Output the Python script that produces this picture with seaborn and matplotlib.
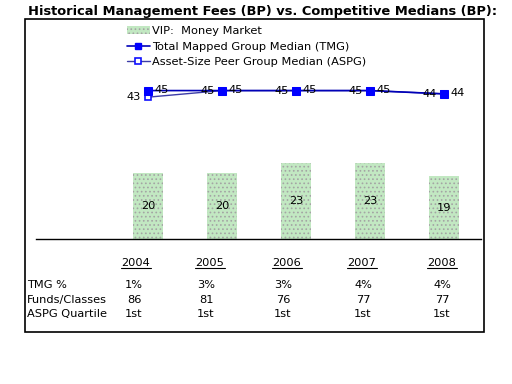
import numpy as np
import matplotlib
matplotlib.use("Agg")
import matplotlib.pyplot as plt
import seaborn as sns
from matplotlib.patches import Rectangle, Patch
from matplotlib.lines import Line2D

years = ["2004", "2005", "2006", "2007", "2008"]
vip_fees = [20, 20, 23, 23, 19]
tmg_median = [45, 45, 45, 45, 44]
aspg_median = [43, 45, 45, 45, 44]
tmg_pct = ["1%", "3%", "3%", "4%", "4%"]
funds_classes = ["86", "81", "76", "77", "77"]
aspg_quartile = ["1st", "1st", "1st", "1st", "1st"]
row_labels = ["TMG %", "Funds/Classes", "ASPG Quartile"]
title = "Historical Management Fees (BP) vs. Competitive Medians (BP):"
legend_labels = ["VIP:  Money Market", "Total Mapped Group Median (TMG)",
                 "Asset-Size Peer Group Median (ASPG)"]

sns.set_style("white")
plt.rcParams['font.family'] = ['DejaVu Sans']
plt.rcParams['text.color'] = 'black'
plt.rcParams['hatch.linewidth'] = 0.7

W, H = 512, 384
fig = plt.figure(figsize=(W / 100, H / 100), dpi=100)

def fx(px):
    return px / W

def fy(py):
    return 1 - py / H

FS = 8.2
BAR_FACE = '#c2e8c2'
HATCH_COL = '#a4a4a4'

ax = fig.add_axes([fx(36), fy(239), fx(481) - fx(36), fy(19) - fy(239)])

pos = np.arange(len(years))
sns.barplot(x=pos, y=vip_fees, ax=ax, color=BAR_FACE, width=0.4,
            native_scale=True, edgecolor=HATCH_COL, linewidth=0, hatch='....',
            saturation=1)
for c in ax.containers:
    ax.bar_label(c, labels=[str(v) for v in vip_fees], label_type='center',
                 fontsize=FS, color='black')

sns.lineplot(x=pos, y=aspg_median, ax=ax, color='#3c3ca8', linewidth=1.0,
             marker='s', markersize=5, markerfacecolor='white',
             markeredgecolor='#1010ff', markeredgewidth=1.2)
sns.lineplot(x=pos, y=tmg_median, ax=ax, color='#0000b8', linewidth=1.2,
             marker='s', markersize=5.5, markerfacecolor='#0000ff',
             markeredgecolor='#0000ff')

for i in range(len(years)):
    ax.annotate(str(aspg_median[i]), (pos[i], aspg_median[i]), xytext=(-5, 0),
                textcoords='offset points', ha='right', va='center', fontsize=FS)
    ax.annotate(str(tmg_median[i]), (pos[i], tmg_median[i]), xytext=(5, 0.5),
                textcoords='offset points', ha='left', va='center', fontsize=FS)

ax.set_xlim(-1.514, 4.5)
ax.set_ylim(0, 66.7)
ax.set_xticks([])
ax.set_yticks([])
ax.set_xlabel("")
ax.set_ylabel("")
for s in ['top', 'left', 'right']:
    ax.spines[s].set_visible(False)
ax.spines['bottom'].set_color('black')
ax.spines['bottom'].set_linewidth(1.0)
ax.patch.set_alpha(0)

handles = [
    Patch(facecolor=BAR_FACE, edgecolor=HATCH_COL, linewidth=0, hatch='....'),
    Line2D([0], [0], color='#0000b8', lw=1.2, marker='s', markersize=5,
           markerfacecolor='#0000ff', markeredgecolor='#0000ff'),
    Line2D([0], [0], color='#3c3ca8', lw=1.0, marker='s', markersize=4.5,
           markerfacecolor='white', markeredgecolor='#1010ff', markeredgewidth=1.2),
]
ax.legend(handles, legend_labels, loc='upper left',
          bbox_to_anchor=(fx(127), fy(26)), bbox_transform=fig.transFigure,
          frameon=False, fontsize=FS, handlelength=2.0, handletextpad=0.2,
          labelspacing=0.5, borderpad=0, borderaxespad=0)

# title
fig.text(fx(28), fy(11), title, fontsize=9.4, fontweight='bold', va='center', ha='left')

# outer box
fig.add_artist(Rectangle((fx(25), fy(332)), fx(484) - fx(25), fy(19) - fy(332),
                         transform=fig.transFigure, fill=False,
                         edgecolor='black', linewidth=1.2))

# table
year_x = [136, 210, 287, 362, 442]
col_x = [134, 206, 283, 363, 442]
for x, y in zip(year_x, years):
    fig.text(fx(x), fy(263), y, fontsize=FS, ha='center', va='center')
    fig.add_artist(Line2D([fx(x - 15), fx(x + 15)], [fy(268), fy(268)],
                          transform=fig.transFigure, color='black', lw=0.8))

rows = [tmg_pct, funds_classes, aspg_quartile]
row_y = [285, 300, 314]
for lbl, vals, yy in zip(row_labels, rows, row_y):
    fig.text(fx(27), fy(yy), lbl, fontsize=FS, ha='left', va='center')
    for x, v in zip(col_x, vals):
        fig.text(fx(x), fy(yy), v, fontsize=FS, ha='center', va='center')

fig.savefig("out.png", dpi=100)
